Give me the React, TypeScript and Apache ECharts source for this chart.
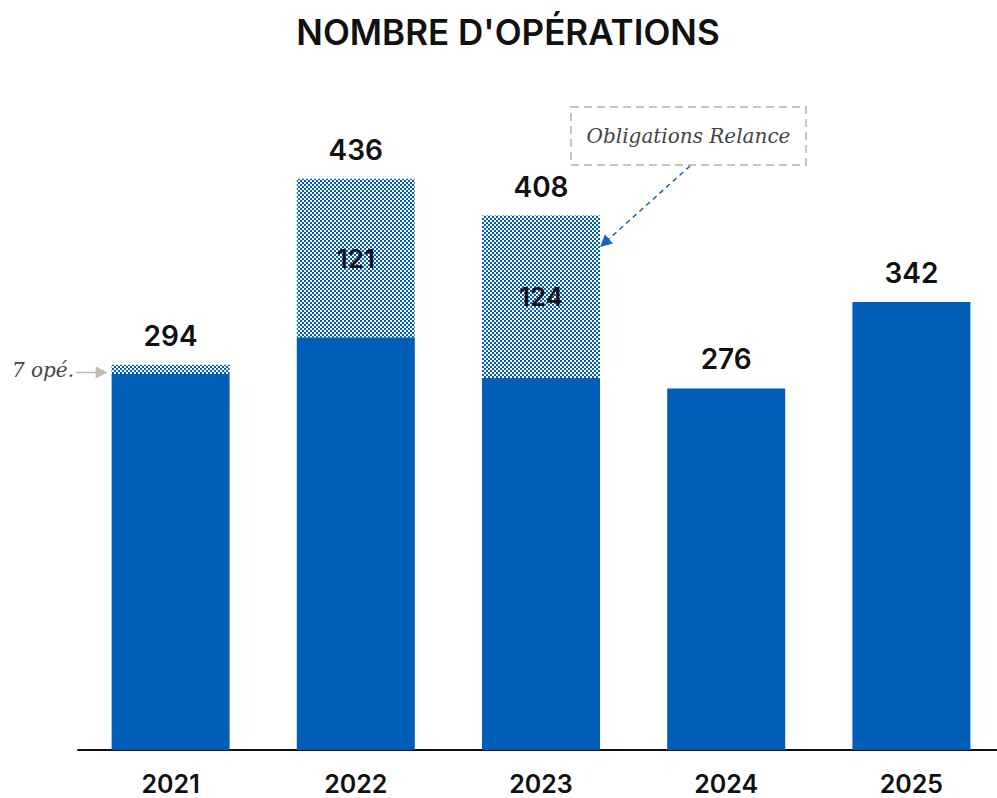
import React, { useEffect, useRef } from 'react';
import * as echarts from 'echarts';

const years = ['2021', '2022', '2023', '2024', '2025'];
const baseOps = [287, 315, 284, 276, 342];
const relanceOps = [7, 121, 124, 0, 0];
const totals = [294, 436, 408, 276, 342];
const titleText = "NOMBRE D'OPÉRATIONS";
const relanceNote = 'Obligations Relance';
const smallNote = '7 opé.';

const BLUE = '#005EB8';

function makePattern() {
  const c = document.createElement('canvas');
  c.width = 4;
  c.height = 4;
  const ctx = c.getContext('2d')!;
  ctx.fillStyle = '#ffffff';
  ctx.fillRect(0, 0, 4, 4);
  ctx.fillStyle = BLUE;
  ctx.fillRect(0, 0, 2, 2);
  ctx.fillRect(2, 2, 2, 2);
  return { image: c, repeat: 'repeat' } as any;
}

function arrowHead(tip: number[], from: number[], size: number, color: string) {
  const dx = tip[0] - from[0];
  const dy = tip[1] - from[1];
  const len = Math.sqrt(dx * dx + dy * dy);
  const ux = dx / len;
  const uy = dy / len;
  const bx = tip[0] - ux * size;
  const by = tip[1] - uy * size;
  const w = size * 0.5;
  return {
    type: 'polygon',
    shape: {
      points: [
        [tip[0], tip[1]],
        [bx - uy * w, by + ux * w],
        [bx + uy * w, by - ux * w],
      ],
    },
    style: { fill: color },
    z: 100,
  };
}

export default function App() {
  const ref = useRef<HTMLDivElement>(null);
  useEffect(() => {
    const chart = echarts.init(ref.current!, null, { renderer: 'svg' });
    const pattern = makePattern();
    const barW = 118;
    chart.setOption({
      animation: false,
      grid: { left: 78, top: 95, width: 926, height: 655 },
      xAxis: {
        type: 'category',
        data: years,
        axisLine: { lineStyle: { color: '#111', width: 2 } },
        axisTick: { show: false },
        axisLabel: { fontFamily: 'Inter', fontSize: 25, fontWeight: 600, color: '#111', margin: 21 },
      },
      yAxis: { type: 'value', min: 0, max: 500, show: false, splitLine: { show: false } },
      series: [
        {
          type: 'bar',
          stack: 'a',
          barWidth: barW,
          data: baseOps,
          itemStyle: { color: BLUE },
        },
        {
          type: 'bar',
          stack: 'a',
          barWidth: barW,
          data: relanceOps.map((v) => ({
            value: v,
            label: {
              show: v > 20,
              position: 'inside',
              fontFamily: 'Inter',
              fontSize: 26,
              fontWeight: 600,
              color: '#111',
            },
          })),
          itemStyle: { color: pattern },
        },
        {
          type: 'bar',
          stack: 'a',
          barWidth: barW,
          data: totals.map(() => 0),
          itemStyle: { color: 'transparent' },
          label: {
            show: true,
            position: 'top',
            distance: 15,
            formatter: (p: any) => String(totals[p.dataIndex]),
            fontFamily: 'Inter',
            fontSize: 28,
            fontWeight: 600,
            color: '#111',
          },
        },
      ],
    });

    const p21 = chart.convertToPixel({ xAxisIndex: 0, yAxisIndex: 0 }, [0, baseOps[0] + relanceOps[0] / 2]) as number[];
    const grayTip = [p21[0] - barW / 2 - 4, p21[1] + 3];
    const grayFrom = [76, p21[1] + 3];
    const p23 = chart.convertToPixel({ xAxisIndex: 0, yAxisIndex: 0 }, [2, 384]) as number[];
    const blueTip = [p23[0] + barW / 2, p23[1]];
    const boxX = 571, boxY = 107, boxW = 235, boxH = 58;
    const blueFrom = [690, boxY + boxH + 1];
    const dx = blueTip[0] - blueFrom[0];
    const dy = blueTip[1] - blueFrom[1];
    const l = Math.sqrt(dx * dx + dy * dy);
    const lineEnd = [blueTip[0] - (dx / l) * 8, blueTip[1] - (dy / l) * 8];

    chart.setOption({
      graphic: [
        {
          type: 'text',
          x: 508,
          y: 32,
          style: {
            text: titleText,
            fontFamily: 'Inter',
            fontWeight: 600,
            fontSize: 35,
            fill: '#111',
            align: 'center',
            verticalAlign: 'middle',
          },
        },
        {
          type: 'text',
          x: 74,
          y: p21[1] + 1,
          style: {
            text: smallNote,
            fontFamily: 'DejaVu Serif',
            fontStyle: 'italic',
            fontSize: 20,
            fill: '#444',
            align: 'right',
            verticalAlign: 'middle',
          },
        },
        {
          type: 'line',
          shape: { x1: grayFrom[0], y1: grayFrom[1], x2: grayTip[0] - 8, y2: grayTip[1] },
          style: { stroke: '#bbbbb0', lineWidth: 1.5 },
        },
        arrowHead(grayTip, grayFrom, 12, '#bbbbb0'),
        {
          type: 'rect',
          shape: { x: boxX, y: boxY, width: boxW, height: boxH },
          style: { fill: '#fff', stroke: '#c4c4c4', lineWidth: 2, lineDash: [8, 5] },
        },
        {
          type: 'text',
          x: boxX + boxW / 2,
          y: boxY + boxH / 2,
          style: {
            text: relanceNote,
            fontFamily: 'DejaVu Serif',
            fontStyle: 'italic',
            fontSize: 20,
            fill: '#444',
            align: 'center',
            verticalAlign: 'middle',
          },
        },
        {
          type: 'line',
          shape: { x1: blueFrom[0], y1: blueFrom[1], x2: lineEnd[0], y2: lineEnd[1] },
          style: { stroke: '#1a62c4', lineWidth: 1.5, lineDash: [5, 4] },
        },
        arrowHead(blueTip, blueFrom, 12, '#1a62c4'),
      ],
    });

    return () => chart.dispose();
  }, []);
  return (
    <div style={{ position: 'absolute', left: 0, top: 0, width: 997, height: 798, overflow: 'hidden', background: '#fff' }}>
      <div ref={ref} style={{ width: 1010, height: 798 }} />
    </div>
  );
}
